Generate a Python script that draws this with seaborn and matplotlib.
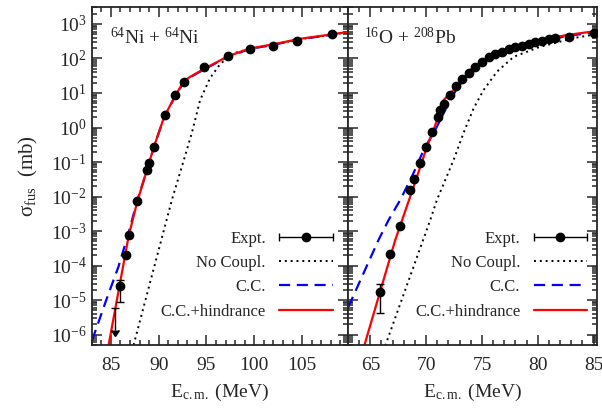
import numpy as np
import matplotlib
matplotlib.use("Agg")
import matplotlib.pyplot as plt
import seaborn as sns
from matplotlib.ticker import (LogLocator, FixedLocator, MultipleLocator,
                               NullFormatter, LogFormatterSciNotation)
from matplotlib.legend_handler import HandlerErrorbar
from matplotlib.container import ErrorbarContainer

# ---------------- 64Ni + 64Ni ----------------
ni_e = [85.92, 86.62, 86.93, 87.73, 88.78, 88.95, 89.54, 90.66, 91.73, 92.70,
        94.79, 97.30, 99.56, 102.0, 104.5, 108.15]
ni_sig = [2.5e-5, 2.0e-4, 7.9e-4, 7.2e-3, 0.060, 0.093, 0.28, 2.3, 8.8, 21,
          57, 118, 185, 230, 322, 500]
ni_err_e = [85.92]
ni_err_sig = [2.5e-5]
ni_err_lo = [9.1e-6]
ni_err_hi = [3.9e-5]
ni_ul_e = [85.47]
ni_ul_sig = [6.0e-6]
ni_ul_low = [1.4e-6]

ni_hind_e = [84.77, 85.89, 86.86, 87.77, 88.78, 89.54, 90.58, 91.73, 92.67, 93.30,
             94.76, 97.27, 99.56, 102.17, 104.78, 107.39, 109.8]
ni_hind = [5.0e-7, 2.45e-5, 7.1e-4, 7.2e-3, 0.060, 0.295, 2.04, 8.3, 22.4, 29.5,
           50, 117, 195, 263, 372, 468, 589]
ni_cc_e = [83.04, 84.53, 85.81, 86.86, 87.73, 88.78, 89.54, 90.58, 91.73, 92.67,
           93.30, 94.76, 97.27, 99.56, 102.17, 104.78, 107.39, 109.8]
ni_cc = [6.8e-7, 1.02e-5, 9.5e-5, 8.9e-4, 7.1e-3, 0.058, 0.29, 2.0, 8.1, 21.8,
         28.6, 48.5, 113, 189, 255, 361, 454, 571]
ni_nc_e = [87.38, 91.39, 92.43, 93.48, 94.34, 95.39, 96.43, 97.79, 99.56,
           102.17, 104.78, 107.39, 109.8]
ni_nc = [5.0e-7, 8.1e-3, 0.074, 0.71, 6.3, 27.5, 69, 141, 190,
         257, 363, 457, 575]

# ---------------- 16O + 208Pb ----------------
pb_e = [65.83, 66.73, 67.69, 68.58, 68.88, 69.48, 69.97, 70.49, 71.09, 71.27,
        71.57, 72.10, 72.70, 73.24, 73.80, 74.40, 75.00, 75.60, 76.20, 76.80,
        77.39, 77.99, 78.59, 79.18, 79.78, 80.38, 80.97, 81.57, 82.76, 85.00]
pb_sig = [1.7e-5, 2.1e-4, 1.36e-3, 0.015, 0.032, 0.093, 0.27, 0.72, 2.0, 3.2,
          4.8, 8.8, 16, 26, 39, 57, 80, 107, 135, 158,
          185, 214, 236, 264, 295, 330, 360, 386, 412, 540]
pb_err_e = [65.83]
pb_err_sig = [1.7e-5]
pb_err_lo = [4.3e-6]
pb_err_hi = [3.0e-5]

pb_hind_e = [64.46, 67.24, 68.88, 70.08, 70.67, 71.57, 72.77, 73.36, 74.25,
             76.35, 79.03, 82.62, 85.33]
pb_hind = [4.8e-7, 5.6e-4, 0.0195, 0.28, 0.85, 6.3, 15.5, 27, 57.5,
           141, 288, 479, 631]
pb_cc_e = [63.03, 65.74, 66.64, 67.69, 68.73, 69.77, 70.97, 71.87, 72.77,
           74.25, 76.35, 79.03, 82.62, 85.33]
pb_cc = [6.3e-6, 5.6e-4, 2.1e-3, 8.1e-3, 0.038, 0.22, 1.07, 4.1, 13.8,
         52, 131, 265, 447, 590]
pb_nc_e = [66.34, 70.37, 70.97, 72.46, 73.36, 74.25, 75.15, 76.35, 77.84,
           80.22, 83.21, 85.33]
pb_nc = [4.8e-7, 2.1e-3, 8.1e-3, 0.115, 0.71, 3.6, 12.3, 41.7, 112,
         219, 389, 513]

# y tick decades shown on the axis
y_decades = [1e-6, 1e-5, 1e-4, 1e-3, 1e-2, 1e-1, 1e0, 1e1, 1e2, 1e3]

sns.set_style("ticks")
plt.rcParams["font.family"] = ["Liberation Serif", "DejaVu Serif"]
plt.rcParams["mathtext.fontset"] = "custom"
plt.rcParams["mathtext.rm"] = "Liberation Serif"
plt.rcParams["mathtext.it"] = "Liberation Serif:italic"
plt.rcParams["axes.linewidth"] = 1.3

fig = plt.figure(figsize=(6.02, 4.08), dpi=100)
W, H = 602.0, 408.0
ax1 = fig.add_axes([91.7 / W, 1 - 345 / H, (348 - 91.7) / W, (345 - 7) / H])
ax2 = fig.add_axes([348 / W, 1 - 345 / H, (597 - 348) / W, (345 - 7) / H])


def draw_panel(ax, e, sig, err_e, err_sig, err_lo, err_hi,
               nc_e, nc, cc_e, cc, hind_e, hind, ul=None):
    sns.lineplot(x=nc_e, y=nc, ax=ax, color="black", linestyle=(0, (1, 2)),
                 linewidth=1.4, sort=False)
    h_nc = ax.get_lines()[-1]
    sns.lineplot(x=cc_e, y=cc, ax=ax, color="#0000ff", linestyle=(0, (5, 3)),
                 linewidth=1.6, sort=False)
    h_cc = ax.get_lines()[-1]
    sns.lineplot(x=hind_e, y=hind, ax=ax, color="#ff0000", linestyle="-",
                 linewidth=1.6, sort=False)
    h_hind = ax.get_lines()[-1]

    ax.errorbar(err_e, err_sig,
                yerr=[np.array(err_sig) - np.array(err_lo), np.array(err_hi) - np.array(err_sig)],
                fmt="none", ecolor="black", color="black", elinewidth=1, capsize=3)
    if ul is not None:
        ul_e, ul_sig, ul_low = ul
        ax.errorbar(ul_e, ul_sig, yerr=np.array(ul_sig) - np.array(ul_low),
                    uplims=True, fmt="none", ecolor="black", color="black",
                    elinewidth=1, capsize=3)
    ax.plot(e, sig, "o", color="black", markersize=6, zorder=5)

    # legend proxy for experimental points (horizontal bar with caps)
    h_exp = ax.errorbar([np.nan], [np.nan], xerr=[1], fmt="o", color="black",
                        markersize=6, elinewidth=1, capsize=3)

    ax.set_yscale("log")
    ax.set_ylim(5e-7, 3.1e3)
    ax.yaxis.set_major_locator(FixedLocator(y_decades))
    ax.yaxis.set_minor_locator(LogLocator(base=10, subs=np.arange(2, 10), numticks=300))
    ax.yaxis.set_minor_formatter(NullFormatter())
    ax.xaxis.set_major_locator(MultipleLocator(5))
    ax.xaxis.set_minor_locator(MultipleLocator(1))
    ax.tick_params(which="both", direction="in", top=True, right=True, width=1.1)
    ax.tick_params(which="major", length=7, labelsize=14)
    ax.tick_params(axis="x", which="major", pad=9)
    ax.tick_params(which="minor", length=3.5)
    ax.set_xlabel(r"E$_{\mathrm{c.m.}}$ (MeV)", fontsize=14, labelpad=5)

    leg = ax.legend([h_exp, h_nc, h_cc, h_hind],
                    ["Expt.", "No Coupl.", "C.C.", "C.C.+hindrance"],
                    loc="lower right", frameon=False, markerfirst=False,
                    fontsize=12, handlelength=3.2, handletextpad=0.8,
                    labelspacing=0.5, borderpad=0, borderaxespad=0,
                    handler_map={ErrorbarContainer: HandlerErrorbar(xerr_size=1.6)})
    return leg


leg1 = draw_panel(ax1, ni_e, ni_sig, ni_err_e, ni_err_sig, ni_err_lo, ni_err_hi,
                  ni_nc_e, ni_nc, ni_cc_e, ni_cc, ni_hind_e, ni_hind,
                  ul=(ni_ul_e, ni_ul_sig, ni_ul_low))
leg1.set_bbox_to_anchor((0.94, 0.075), transform=ax1.transAxes)
ax1.set_xlim(83, 109.8)

leg2 = draw_panel(ax2, pb_e, pb_sig, pb_err_e, pb_err_sig, pb_err_lo, pb_err_hi,
                  pb_nc_e, pb_nc, pb_cc_e, pb_cc, pb_hind_e, pb_hind)
leg2.set_bbox_to_anchor((0.96, 0.075), transform=ax2.transAxes)
ax2.set_xlim(63, 85.3)
ax2.tick_params(axis="y", which="both", labelleft=False)

ax1.yaxis.set_major_formatter(LogFormatterSciNotation())
ax1.set_ylabel(r"σ$_{\mathrm{fus}}$  (mb)", fontsize=15)
ax1.yaxis.set_label_coords(-0.2, 0.5)

ax1.text(0.07, 0.91, r"$^{64}$Ni + $^{64}$Ni", transform=ax1.transAxes,
         fontsize=14, va="center", ha="left")
ax2.text(0.064, 0.91, r"$^{16}$O + $^{208}$Pb", transform=ax2.transAxes,
         fontsize=14, va="center", ha="left")

fig.savefig("out.png", dpi=100)
